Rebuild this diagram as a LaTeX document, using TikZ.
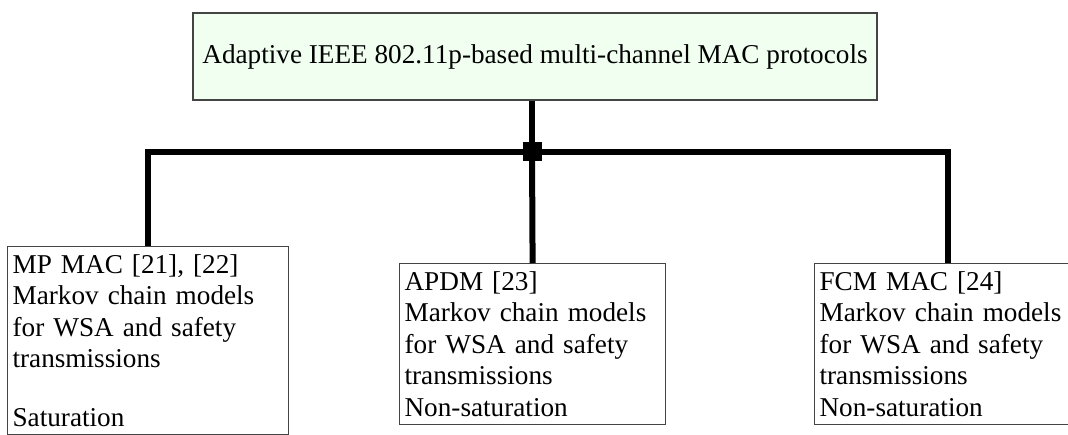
\documentclass[tikz,border=0pt]{standalone}
\usepackage{fontspec}
\setmainfont{Liberation Serif}
\definecolor{topfill}{HTML}{F0FFF0}
\definecolor{boxline}{HTML}{444444}
\tikzset{
  conn/.style={line width=6pt, black},
  topbox/.style={draw=boxline, line width=1.2pt, fill=topfill, minimum width=684pt, minimum height=87pt, inner sep=0pt, font=\fontsize{27.2}{31.5}\selectfont},
  leafbox/.style={draw=boxline, line width=1.2pt, fill=white, anchor=north west, align=left, inner xsep=5pt, inner ysep=8pt, font=\fontsize{27.2}{31.5}\selectfont},
  junction/.style={fill=black, minimum size=19pt, inner sep=0pt}
}
\begin{document}
\begin{tikzpicture}[x=1pt,y=1pt]
\useasboundingbox (0,0) rectangle (1068,-435);
\clip (0,0) rectangle (1068,-435);
\node[topbox] (top) at (535,-56.5) {Adaptive IEEE 802.11p-based multi-channel MAC protocols};
\node[leafbox, text width=271pt] (left) at (7,-246) {MP MAC [21], [22]\\ Markov chain models\\ for WSA and safety\\ transmissions\\[27pt] Saturation\\[20pt]};
\node[leafbox, text width=256pt] (mid) at (399,-263) {APDM [23]\\ Markov chain models\\ for WSA and safety\\ transmissions\\ Non-saturation};
\node[leafbox, text width=256pt] (right) at (814,-263) {FCM MAC [24]\\ Markov chain models\\ for WSA and safety\\ transmissions\\ Non-saturation};
\node[junction] (j) at (532,-152) {};
\draw[conn] (j.center |- top.south) -- (j.center);
\draw[conn] (left.north) |- (j.center);
\draw[conn] (right.north) |- (j.center);
\draw[conn] (mid.north) -- (j.center);
\node[junction] at (j) {};
\end{tikzpicture}
\end{document}
